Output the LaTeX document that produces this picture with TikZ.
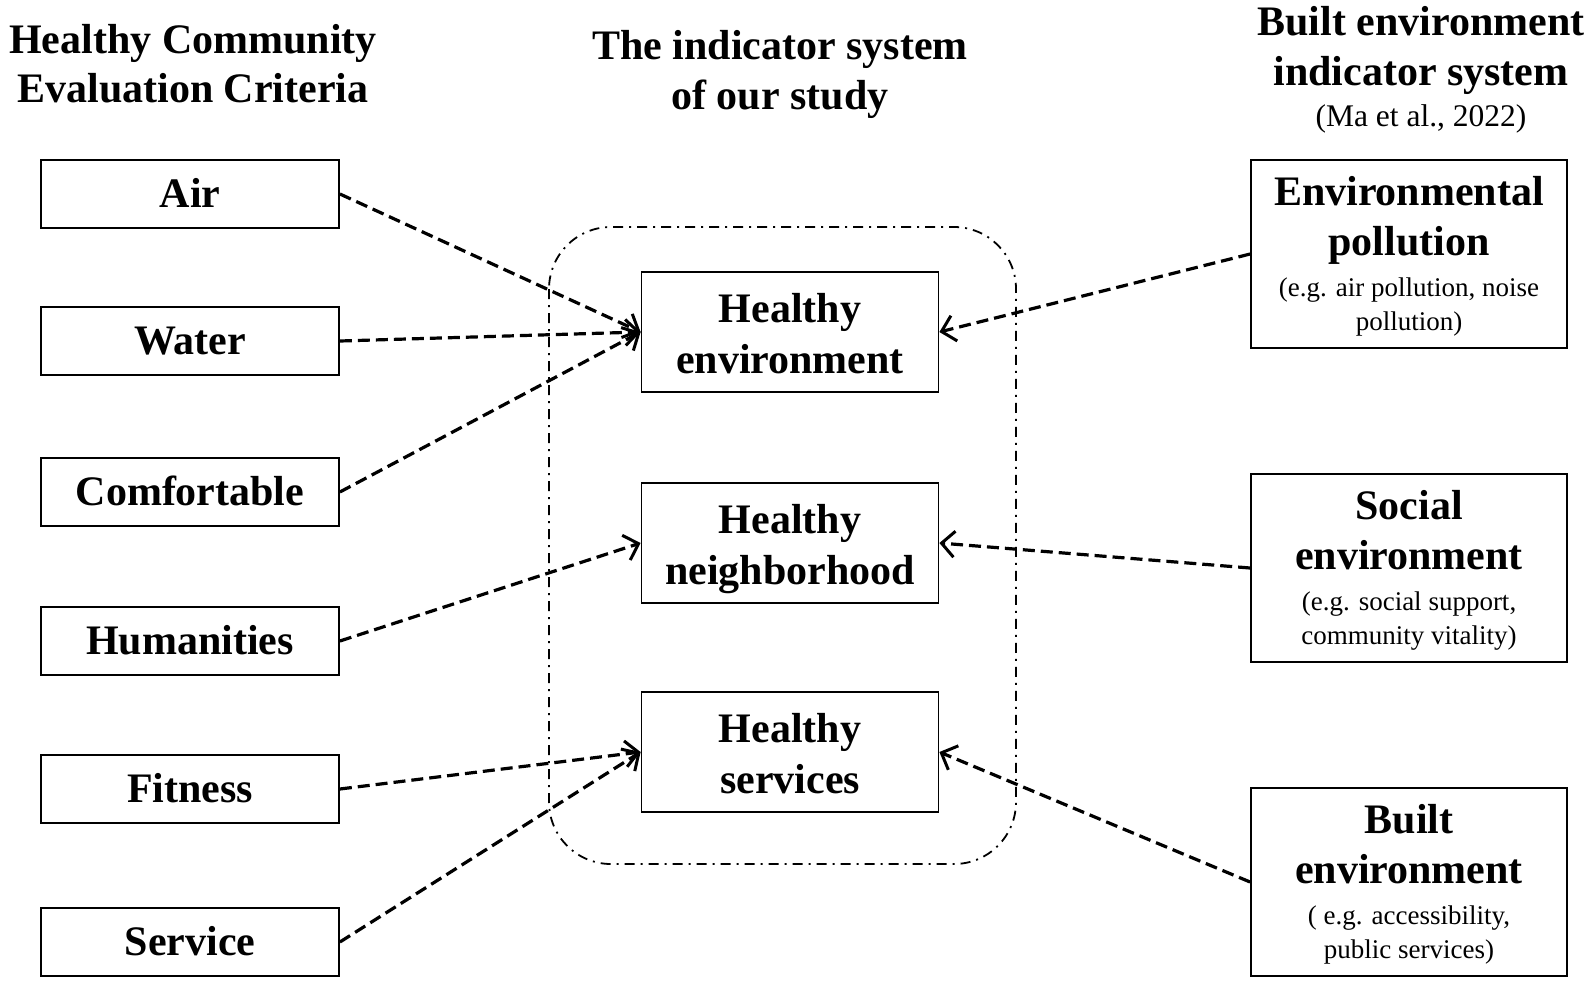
\documentclass[tikz,border=0pt]{standalone}
\usepackage{fontspec}
\setmainfont{Liberation Serif}
\usetikzlibrary{arrows.meta}
\newcommand{\bigf}{\fontsize{42}{50}\selectfont\bfseries}
\newcommand{\smallf}{\fontsize{27}{33}\selectfont}
\newcommand{\citef}{\fontsize{31.5}{38}\selectfont}
\begin{document}
\begin{tikzpicture}[x=1pt,y=-1pt,
  box/.style={draw,line width=1.8pt,inner sep=0pt,minimum width=298pt,minimum height=68pt},
  midbox/.style={draw,line width=1.8pt,inner sep=0pt,minimum width=297pt,minimum height=120pt},
  rbox/.style={draw,line width=1.8pt,inner sep=0pt,minimum width=316pt,minimum height=188pt},
  bt/.style={font=\bigf,anchor=base,inner sep=0pt},
  st/.style={font=\smallf,anchor=base,inner sep=0pt},
  ct/.style={font=\citef,anchor=base,inner sep=0pt},
  conn/.style={line width=3.2pt,dash pattern=on 12pt off 6pt,-{Straight Barb[length=13pt,width=26pt,line width=3pt]}}
]
\useasboundingbox (0,0) rectangle (1595,985);
% headers
\node[bt] (h1a) at (193,53) {Healthy Community};
\node[bt] (h1b) at (193,102) {Evaluation Criteria};
\node[bt] (h2a) at (780,59) {The indicator system};
\node[bt] (h2b) at (780,109) {of our study};
\node[bt] (h3a) at (1421,35) {Built environment};
\node[bt] (h3b) at (1421,85) {indicator system};
\node[ct] (h3c) at (1421,126) {(Ma et al., 2022)};
% dash-dot group
\draw[line width=1.8pt,rounded corners=62pt,dash pattern=on 10pt off 6pt on 2pt off 6pt] (549,227) rectangle (1016,864);
% left boxes
\node[box] (air) at (190,194) {};
\node[bt] (airt) at (190,207) {Air};
\node[box] (water) at (190,341) {};
\node[bt] (watert) at (190,354) {Water};
\node[box] (comf) at (190,492) {};
\node[bt] (comft) at (190,505) {Comfortable};
\node[box] (hum) at (190,641) {};
\node[bt] (humt) at (190,654) {Humanities};
\node[box] (fit) at (190,789) {};
\node[bt] (fitt) at (190,802) {Fitness};
\node[box] (serv) at (190,942) {};
\node[bt] (servt) at (190,955) {Service};
% middle boxes
\node[midbox] (henv) at (790,332) {};
\node[bt] (henv1) at (790,322) {Healthy};
\node[bt] (henv2) at (790,373) {environment};
\node[midbox] (hnb) at (790,543) {};
\node[bt] (hnb1) at (790,533) {Healthy};
\node[bt] (hnb2) at (790,584) {neighborhood};
\node[midbox] (hsv) at (790,752) {};
\node[bt] (hsv1) at (790,742) {Healthy};
\node[bt] (hsv2) at (790,793) {services};
% right boxes
\node[rbox] (ep) at (1409,254) {};
\node[bt] (ep1) at (1409,205) {Environmental};
\node[bt] (ep2) at (1409,255) {pollution};
\node[st] (ep3) at (1409,296) {(e.g. air pollution, noise};
\node[st] (ep4) at (1409,330) {pollution)};
\node[rbox] (se) at (1409,568) {};
\node[bt] (se1) at (1409,519) {Social};
\node[bt] (se2) at (1409,569) {environment};
\node[st] (se3) at (1409,610) {(e.g. social support,};
\node[st] (se4) at (1409,644) {community vitality)};
\node[rbox] (be) at (1409,882) {};
\node[bt] (be1) at (1409,833) {Built};
\node[bt] (be2) at (1409,883) {environment};
\node[st] (be3) at (1409,924) {( e.g. accessibility,};
\node[st] (be4) at (1409,958) {public services)};
% connectors
\draw[conn] (air.east) -- (henv.west);
\draw[conn] (water.east) -- (henv.west);
\draw[conn] (comf.east) -- (henv.west);
\draw[conn] (hum.east) -- (hnb.west);
\draw[conn] (fit.east) -- (hsv.west);
\draw[conn] (serv.east) -- (hsv.west);
\draw[conn] (ep.west) -- (henv.east);
\draw[conn] (se.west) -- (hnb.east);
\draw[conn] (be.west) -- (hsv.east);
\end{tikzpicture}
\end{document}
